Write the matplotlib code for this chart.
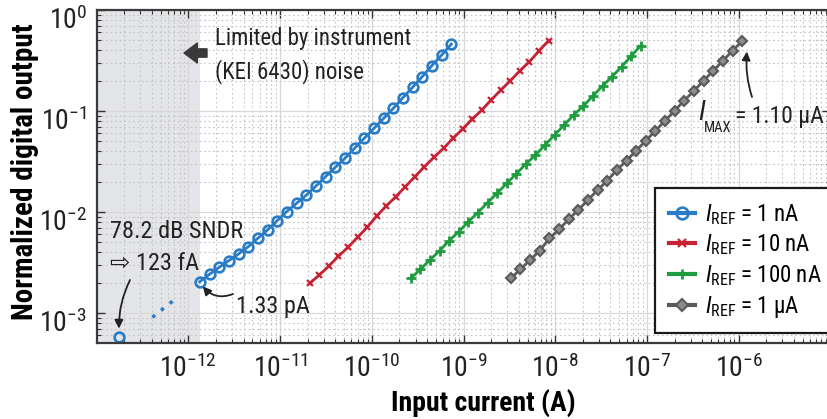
import matplotlib
matplotlib.use("Agg")
import matplotlib.pyplot as plt
from matplotlib import font_manager as fm
from matplotlib.transforms import ScaledTranslation

CANDS = ['Liberation Sans Narrow', 'Arial Narrow', 'Roboto Condensed', 'Archivo Narrow',
         'Asap Condensed', 'Barlow Semi Condensed']


def pick(cands, bold=False):
    for c in cands:
        fs = [f for f in fm.fontManager.ttflist if f.name == c]
        if fs and (not bold or any(f.weight in (700, 'bold') for f in fs)):
            return c
    return 'Liberation Sans'


FONT = pick(CANDS)
BFONT = pick(CANDS, bold=True)
plt.rcParams['font.family'] = [FONT, 'DejaVu Sans']
plt.rcParams['mathtext.fontset'] = 'custom'
plt.rcParams['mathtext.rm'] = FONT
plt.rcParams['mathtext.it'] = FONT + ':italic'
plt.rcParams['mathtext.bf'] = FONT + ':bold'

# ---------------- data ----------------
blue_x = [1.33e-12, 1.70e-12, 2.16e-12, 2.76e-12, 3.52e-12, 4.48e-12, 5.71e-12, 7.29e-12, 9.29e-12,
          1.18e-11, 1.51e-11, 1.93e-11, 2.46e-11, 3.13e-11, 3.99e-11, 5.09e-11, 6.49e-11, 8.27e-11,
          1.06e-10, 1.35e-10, 1.71e-10, 2.19e-10, 2.79e-10, 3.55e-10, 4.53e-10, 5.78e-10, 7.37e-10]
blue_y = [2.04e-3, 2.42e-3, 2.83e-3, 3.30e-3, 3.84e-3, 4.53e-3, 5.49e-3, 6.64e-3, 8.20e-3,
          1.01e-2, 1.22e-2, 1.47e-2, 1.81e-2, 2.24e-2, 2.77e-2, 3.40e-2, 4.28e-2, 5.37e-2,
          6.75e-2, 8.47e-2, 0.106, 0.136, 0.172, 0.219, 0.282, 0.358, 0.460]

red_x = [2.11e-11, 2.68e-11, 3.41e-11, 4.33e-11, 5.51e-11, 7.00e-11, 8.90e-11, 1.13e-10, 1.44e-10,
         1.83e-10, 2.32e-10, 2.95e-10, 3.75e-10, 4.77e-10, 6.06e-10, 7.70e-10, 9.79e-10, 1.24e-9,
         1.58e-9, 2.01e-9, 2.55e-9, 3.25e-9, 4.13e-9, 5.24e-9, 6.67e-9, 8.47e-9]
red_y = [1.97e-3, 2.38e-3, 2.92e-3, 3.66e-3, 4.47e-3, 5.62e-3, 7.06e-3, 9.12e-3, 1.15e-2,
         1.42e-2, 1.78e-2, 2.24e-2, 2.81e-2, 3.48e-2, 4.28e-2, 5.37e-2, 6.64e-2, 8.28e-2,
         0.102, 0.129, 0.161, 0.200, 0.251, 0.308, 0.395, 0.497]

green_x = [2.66e-10, 3.38e-10, 4.31e-10, 5.48e-10, 6.97e-10, 8.87e-10, 1.13e-9, 1.43e-9, 1.83e-9,
           2.32e-9, 2.95e-9, 3.76e-9, 4.78e-9, 6.08e-9, 7.74e-9, 9.85e-9, 1.25e-8, 1.59e-8,
           2.03e-8, 2.58e-8, 3.28e-8, 4.17e-8, 5.31e-8, 6.76e-8, 8.60e-8]
green_y = [2.20e-3, 2.71e-3, 3.35e-3, 4.14e-3, 5.20e-3, 6.38e-3, 8.02e-3, 9.84e-3, 1.24e-2,
           1.53e-2, 1.92e-2, 2.38e-2, 2.99e-2, 3.66e-2, 4.60e-2, 5.78e-2, 7.26e-2, 9.12e-2,
           0.112, 0.141, 0.177, 0.219, 0.275, 0.351, 0.445]

gray_x = [3.28e-9, 4.18e-9, 5.32e-9, 6.78e-9, 8.64e-9, 1.10e-8, 1.40e-8, 1.79e-8, 2.28e-8,
          2.90e-8, 3.69e-8, 4.71e-8, 6.00e-8, 7.64e-8, 9.73e-8, 1.24e-7, 1.58e-7, 2.01e-7,
          2.56e-7, 3.27e-7, 4.16e-7, 5.30e-7, 6.75e-7, 8.61e-7, 1.10e-6]
gray_y = [2.20e-3, 2.71e-3, 3.35e-3, 4.14e-3, 5.48e-3, 6.73e-3, 8.45e-3, 1.05e-2, 1.32e-2,
          1.65e-2, 2.04e-2, 2.61e-2, 3.22e-2, 4.05e-2, 5.08e-2, 6.38e-2, 8.02e-2, 0.101,
          0.127, 0.159, 0.200, 0.251, 0.315, 0.395, 0.497]

noise_x = [1.75e-13]
noise_y = [5.74e-4]
trend_x = [4.05e-13, 7.59e-13]
trend_y = [9.06e-4, 1.43e-3]

shade_end = 1.33e-12
labels = [r'$\mathit{I}_{\mathrm{REF}}$ = 1 nA', r'$\mathit{I}_{\mathrm{REF}}$ = 10 nA',
          r'$\mathit{I}_{\mathrm{REF}}$ = 100 nA', r'$\mathit{I}_{\mathrm{REF}}$ = 1 µA']
x_ticks = [1e-12, 1e-11, 1e-10, 1e-9, 1e-8, 1e-7, 1e-6]
y_ticks = [1e-3, 1e-2, 1e-1, 1e0]

C_BLUE = '#2a7cc6'
C_RED = '#c62233'
C_GREEN = '#1f9c3f'
C_GRAY = '#5a5a5a'
C_TXT = '#222222'

W, H = 828, 419
fig = plt.figure(figsize=(W / 100, H / 100), dpi=100)
ax = fig.add_axes([96.7 / W, 1 - 343 / H, (830.3 - 96.7) / W, 333 / H])


def P(px, py):
    return (px / W, 1 - py / H)


ax.set_xscale('log')
ax.set_yscale('log')
ax.set_xlim(1e-13, 1e-5)
ax.set_ylim(10 ** -3.297, 1.0)

ax.axvspan(1e-13, shade_end, color='#e3e5e8', zorder=0, lw=0)

ax.grid(True, which='major', color='#d8d8d8', lw=0.9, ls='-')
ax.grid(True, which='minor', color='#c4c4c4', lw=0.8, ls=(0, (1.5, 2.5)))
ax.set_axisbelow(True)

l1, = ax.plot(blue_x, blue_y, color=C_BLUE, lw=2, marker='o', ms=7, mfc='none', mew=1.9, label=labels[0])
l2, = ax.plot(red_x, red_y, color=C_RED, lw=2, marker='x', ms=5, mew=1.6, label=labels[1])
l3, = ax.plot(green_x, green_y, color=C_GREEN, lw=2, marker='+', ms=6.5, mew=2, label=labels[2])
l4, = ax.plot(gray_x, gray_y, color=C_GRAY, lw=2, marker='D', ms=5.5, mfc='#8c8c8c', mec=C_GRAY, mew=1.5,
              label=labels[3])
ax.plot(noise_x, noise_y, ls='none', marker='o', ms=7, mfc='none', mec=C_BLUE, mew=1.9)
ax.plot(trend_x, trend_y, color=C_BLUE, lw=2.5, ls=(0, (1, 2.2)))

ax.set_xticks(x_ticks)
ax.set_yticks(y_ticks)
ax.tick_params(which='both', direction='in', top=True, right=True, colors='#333333', labelcolor=C_TXT)
ax.tick_params(which='major', length=6, width=1, labelsize=20)
ax.tick_params(which='minor', length=3, width=0.8)
ax.tick_params(axis='x', pad=8)
ax.tick_params(axis='y', pad=7)
for s in ax.spines.values():
    s.set_color('#3a3a3a')
    s.set_linewidth(1.6)

# y tick labels sit a little below their ticks in the reference
shift = ScaledTranslation(0, -8 / 100, fig.dpi_scale_trans)
for t in ax.yaxis.get_major_ticks():
    t.label1.set_transform(t.label1.get_transform() + shift)

ax.set_xlabel('Input current (A)', fontsize=20, fontweight='bold', family=[BFONT, 'DejaVu Sans'])
ax.xaxis.set_label_coords((483 - 96.7) / 733.6, -0.138)
ax.set_ylabel('Normalized digital output', fontsize=21, fontweight='bold', family=[BFONT, 'DejaVu Sans'])
ax.yaxis.set_label_coords(-0.079, 0.515)

# annotations
fig.text(*P(215, 38), 'Limited by instrument', fontsize=16.5, va='center', ha='left', color=C_TXT)
fig.text(*P(215, 72), '(KEI 6430) noise', fontsize=16.5, va='center', ha='left', color=C_TXT)
ax.annotate('', xy=P(184, 53), xytext=P(207, 53), xycoords='figure fraction', textcoords='figure fraction',
            arrowprops=dict(arrowstyle='simple,head_length=0.8,head_width=1.2,tail_width=0.5',
                            color='#3a3a3a', shrinkA=0, shrinkB=0, mutation_scale=12))

fig.text(*P(110, 231), '78.2 dB SNDR', fontsize=17.5, va='center', ha='left', color=C_TXT)
fig.text(*P(110, 264), '⇨ 123 fA', fontsize=17.5, va='center', ha='left', color=C_TXT)
ax.annotate('', xy=(noise_x[0], noise_y[0] * 1.22), xycoords='data', xytext=P(130, 280),
            textcoords='figure fraction',
            arrowprops=dict(arrowstyle='-|>,head_length=0.5,head_width=0.25', color=C_TXT, lw=1.3,
                            shrinkA=0, shrinkB=0, connectionstyle='arc3,rad=0.12'))

fig.text(*P(236, 306), '1.33 pA', fontsize=17.5, va='center', ha='left', color=C_TXT)
ax.annotate('', xy=(blue_x[0] * 1.08, blue_y[0] * 0.9), xycoords='data', xytext=P(233, 294),
            textcoords='figure fraction',
            arrowprops=dict(arrowstyle='-|>,head_length=0.5,head_width=0.25', color=C_TXT, lw=1.3,
                            shrinkA=0, shrinkB=0, connectionstyle='arc3,rad=-0.35'))

# I_MAX label built from pieces (large italic I, small subscript)
fig.text(*P(698, 113), 'I', fontsize=20, style='italic', va='center', ha='left', color=C_TXT)
fig.text(*P(704, 128), 'MAX', fontsize=10.5, va='center', ha='left', color=C_TXT)
fig.text(*P(735, 116), '= 1.10 µA', fontsize=17, va='center', ha='left', color=C_TXT)
ax.annotate('', xy=(gray_x[-1] * 1.12, gray_y[-1] * 0.78), xycoords='data', xytext=P(752, 97),
            textcoords='figure fraction',
            arrowprops=dict(arrowstyle='-|>,head_length=0.5,head_width=0.25', color=C_TXT, lw=1.3,
                            shrinkA=0, shrinkB=0, connectionstyle='arc3,rad=-0.1'))

leg = ax.legend(handles=[l1, l2, l3, l4], loc='upper left', bbox_to_anchor=P(655, 188),
                bbox_transform=fig.transFigure, fontsize=16.5, frameon=True, fancybox=False,
                framealpha=1, edgecolor='#1a1a1a', handlelength=1.15, handletextpad=0.45,
                labelspacing=0.25, borderpad=0.6, borderaxespad=0, markerscale=1.2)
leg.get_frame().set_linewidth(1.6)
for line in leg.get_lines():
    line.set_linewidth(3)

fig.savefig('out.png', dpi=100)
